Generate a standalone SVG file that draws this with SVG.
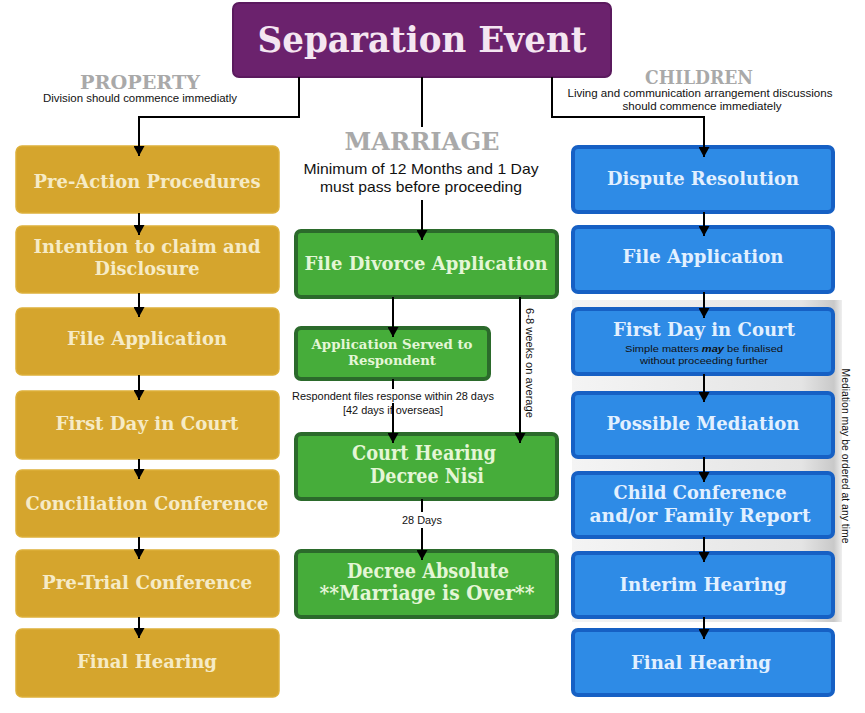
<svg xmlns="http://www.w3.org/2000/svg" width="865" height="713" viewBox="0 0 865 713">
<defs>
<marker id="ah" markerUnits="userSpaceOnUse" markerWidth="11" markerHeight="11" refX="10" refY="5.5" orient="auto"><path d="M0,0 L10,5.5 L0,11 z" fill="#000"/></marker>
<linearGradient id="band" x1="0" y1="0" x2="1" y2="0">
<stop offset="0" stop-color="#f4f4f4"/><stop offset="0.85" stop-color="#e4e4e4"/><stop offset="0.97" stop-color="#c9c9c9"/><stop offset="1" stop-color="#efefef"/>
</linearGradient>
<style>
.gold{fill:#d5a52d;stroke:#ddb03a;stroke-width:1.5}
.green{fill:#46ad3a;stroke:#2b6a2b;stroke-width:4}
.blue{fill:#2e8be6;stroke:#1660c4;stroke-width:4}
.title{fill:#6b226d;stroke:#5b1a5e;stroke-width:2}
.sf{font-family:"DejaVu Serif","Liberation Serif",serif;font-weight:bold;text-anchor:middle}
.gt{fill:#f6ebc6;font-size:18px}
.grt{fill:#e4f6d6}
.bt{fill:#e2f0ff;font-size:18px}
.hd{fill:#a9a9a9}
.ss{font-family:"Liberation Sans",Arial,sans-serif;text-anchor:middle;fill:#111}
.cn{stroke:#000;stroke-width:2;fill:none}
.ar{stroke:#000;stroke-width:2;fill:none;marker-end:url(#ah)}
</style>
</defs>
<rect width="865" height="713" fill="#fff"/>
<rect x="572" y="300" width="270" height="322" fill="url(#band)"/>

<g id="separation-event">
<rect class="title" x="233" y="3" width="378" height="74" rx="6"/>
<text class="sf" x="422" y="52" font-size="35" fill="#f4e6f1" textLength="329" lengthAdjust="spacingAndGlyphs">Separation Event</text>
</g>

<g id="property-label">
<text class="sf hd" x="140" y="89" font-size="18" textLength="120" lengthAdjust="spacingAndGlyphs">PROPERTY</text>
<text class="ss" x="140" y="102" font-size="10" textLength="194" lengthAdjust="spacingAndGlyphs">Division should commence immediatly</text>
</g>
<g id="marriage-label">
<text class="sf hd" x="422" y="150" font-size="24" textLength="155" lengthAdjust="spacingAndGlyphs">MARRIAGE</text>
<text class="ss" x="421" y="174" font-size="14.5" textLength="235" lengthAdjust="spacingAndGlyphs">Minimum of 12 Months and 1 Day</text>
<text class="ss" x="421" y="192" font-size="14.5" textLength="202" lengthAdjust="spacingAndGlyphs">must pass before proceeding</text>
</g>
<g id="children-label">
<text class="sf hd" x="699" y="84" font-size="18" textLength="108" lengthAdjust="spacingAndGlyphs">CHILDREN</text>
<text class="ss" x="700" y="97" font-size="10" textLength="265" lengthAdjust="spacingAndGlyphs">Living and communication arrangement discussions</text>
<text class="ss" x="702" y="110" font-size="10" textLength="159" lengthAdjust="spacingAndGlyphs">should commence immediately</text>
</g>

<!-- Property column -->
<g id="p-preaction"><rect class="gold" x="16" y="146" width="263" height="67" rx="6"/>
<text class="sf gt" x="147" y="188" textLength="227" lengthAdjust="spacingAndGlyphs">Pre-Action Procedures</text></g>
<g id="p-intention"><rect class="gold" x="16" y="226" width="263" height="67" rx="6"/>
<text class="sf gt" x="147" y="253" textLength="227" lengthAdjust="spacingAndGlyphs">Intention to claim and</text>
<text class="sf gt" x="147" y="275" textLength="105" lengthAdjust="spacingAndGlyphs">Disclosure</text></g>
<g id="p-file"><rect class="gold" x="16" y="308" width="263" height="67" rx="6"/>
<text class="sf gt" x="147" y="345" textLength="160" lengthAdjust="spacingAndGlyphs">File Application</text></g>
<g id="p-firstday"><rect class="gold" x="16" y="391" width="263" height="68" rx="6"/>
<text class="sf gt" x="147" y="430" textLength="183" lengthAdjust="spacingAndGlyphs">First Day in Court</text></g>
<g id="p-conciliation"><rect class="gold" x="16" y="470" width="263" height="67" rx="6"/>
<text class="sf gt" x="147" y="510" textLength="243" lengthAdjust="spacingAndGlyphs">Conciliation Conference</text></g>
<g id="p-pretrial"><rect class="gold" x="16" y="550" width="263" height="67" rx="6"/>
<text class="sf gt" x="147" y="589" textLength="210" lengthAdjust="spacingAndGlyphs">Pre-Trial Conference</text></g>
<g id="p-final"><rect class="gold" x="16" y="629" width="263" height="68" rx="6"/>
<text class="sf gt" x="147" y="668" textLength="140" lengthAdjust="spacingAndGlyphs">Final Hearing</text></g>

<!-- Marriage column -->
<g id="m-file"><rect class="green" x="296" y="231" width="261" height="66" rx="5"/>
<text class="sf grt" x="426" y="270" font-size="18.5" textLength="243" lengthAdjust="spacingAndGlyphs">File Divorce Application</text></g>
<g id="m-served"><rect class="green" x="296" y="328" width="193" height="51" rx="5"/>
<text class="sf grt" x="392" y="349" font-size="13" textLength="161" lengthAdjust="spacingAndGlyphs">Application Served to</text>
<text class="sf grt" x="392" y="365" font-size="13" textLength="88" lengthAdjust="spacingAndGlyphs">Respondent</text></g>
<g id="m-nisi"><rect class="green" x="296" y="434" width="261" height="65" rx="5"/>
<text class="sf grt" x="424" y="460" font-size="20" textLength="144" lengthAdjust="spacingAndGlyphs">Court Hearing</text>
<text class="sf grt" x="427" y="483" font-size="20" textLength="114" lengthAdjust="spacingAndGlyphs">Decree Nisi</text></g>
<g id="m-absolute"><rect class="green" x="296" y="551" width="261" height="66" rx="5"/>
<text class="sf grt" x="428" y="578" font-size="20" textLength="162" lengthAdjust="spacingAndGlyphs">Decree Absolute</text>
<text class="sf grt" x="427" y="600" font-size="20" textLength="215" lengthAdjust="spacingAndGlyphs">**Marriage is Over**</text></g>
<g id="m-labels">
<text class="ss" x="393" y="400" font-size="10" textLength="202" lengthAdjust="spacingAndGlyphs">Respondent files response within 28 days</text>
<text class="ss" x="393" y="414" font-size="10" textLength="100" lengthAdjust="spacingAndGlyphs">[42 days if overseas]</text>
<text class="ss" x="422" y="524" font-size="10" textLength="40" lengthAdjust="spacingAndGlyphs">28 Days</text>
<text class="ss" transform="translate(526 363) rotate(90)" font-size="10" textLength="110" lengthAdjust="spacingAndGlyphs">6-8 weeks on average</text>
</g>

<!-- Children column -->
<g id="c-dispute"><rect class="blue" x="573" y="147" width="260" height="65" rx="5"/>
<text class="sf bt" x="703" y="185" textLength="192" lengthAdjust="spacingAndGlyphs">Dispute Resolution</text></g>
<g id="c-file"><rect class="blue" x="573" y="227" width="260" height="65" rx="5"/>
<text class="sf bt" x="703" y="263" textLength="161" lengthAdjust="spacingAndGlyphs">File Application</text></g>
<g id="c-firstday"><rect class="blue" x="573" y="309" width="260" height="65" rx="5"/>
<text class="sf bt" x="704" y="336" textLength="182" lengthAdjust="spacingAndGlyphs">First Day in Court</text>
<text class="ss" x="704" y="352" font-size="9.5" fill="#0d1a33" textLength="158" lengthAdjust="spacingAndGlyphs">Simple matters <tspan font-weight="bold" font-style="italic">may</tspan> be finalised</text>
<text class="ss" x="704" y="364" font-size="9.5" fill="#0d1a33" textLength="128" lengthAdjust="spacingAndGlyphs">without proceeding further</text></g>
<g id="c-mediation"><rect class="blue" x="573" y="393" width="260" height="64" rx="5"/>
<text class="sf bt" x="703" y="430" textLength="193" lengthAdjust="spacingAndGlyphs">Possible Mediation</text></g>
<g id="c-childconf"><rect class="blue" x="573" y="473" width="260" height="64" rx="5"/>
<text class="sf bt" x="700" y="499" textLength="173" lengthAdjust="spacingAndGlyphs">Child Conference</text>
<text class="sf bt" x="700" y="522" textLength="221" lengthAdjust="spacingAndGlyphs">and/or Family Report</text></g>
<g id="c-interim"><rect class="blue" x="573" y="553" width="260" height="64" rx="5"/>
<text class="sf bt" x="703" y="591" textLength="167" lengthAdjust="spacingAndGlyphs">Interim Hearing</text></g>
<g id="c-final"><rect class="blue" x="573" y="630" width="260" height="65" rx="5"/>
<text class="sf bt" x="701" y="669" textLength="140" lengthAdjust="spacingAndGlyphs">Final Hearing</text></g>
<g id="c-note">
<text class="ss" transform="translate(842 456) rotate(90)" font-size="11" textLength="175" lengthAdjust="spacingAndGlyphs">Mediation may be ordered at any time</text>
</g>

<g id="connectors">
<path class="ar" d="M299,77 V117 H139 V156"/>
<path class="ar" d="M552,77 V117 H704 V157"/>
<path class="cn" d="M422,77 V127"/>
<path class="ar" d="M422,200 V240"/>
<path class="ar" d="M139,213 V235"/>
<path class="ar" d="M139,293 V317"/>
<path class="ar" d="M139,375 V400"/>
<path class="ar" d="M139,459 V479"/>
<path class="ar" d="M139,537 V559"/>
<path class="ar" d="M139,617 V638"/>
<path class="ar" d="M704,212 V236"/>
<path class="ar" d="M704,292 V318"/>
<path class="ar" d="M704,374 V402"/>
<path class="ar" d="M704,457 V482"/>
<path class="ar" d="M704,537 V562"/>
<path class="ar" d="M704,617 V639"/>
<path class="ar" d="M393,297 V337"/>
<path class="cn" d="M393,379 V389"/>
<path class="ar" d="M393,403 V443"/>
<path class="ar" d="M520,297 V443"/>
<path class="cn" d="M422,499 V512"/>
<path class="ar" d="M422,528 V560"/>
</g>
</svg>
